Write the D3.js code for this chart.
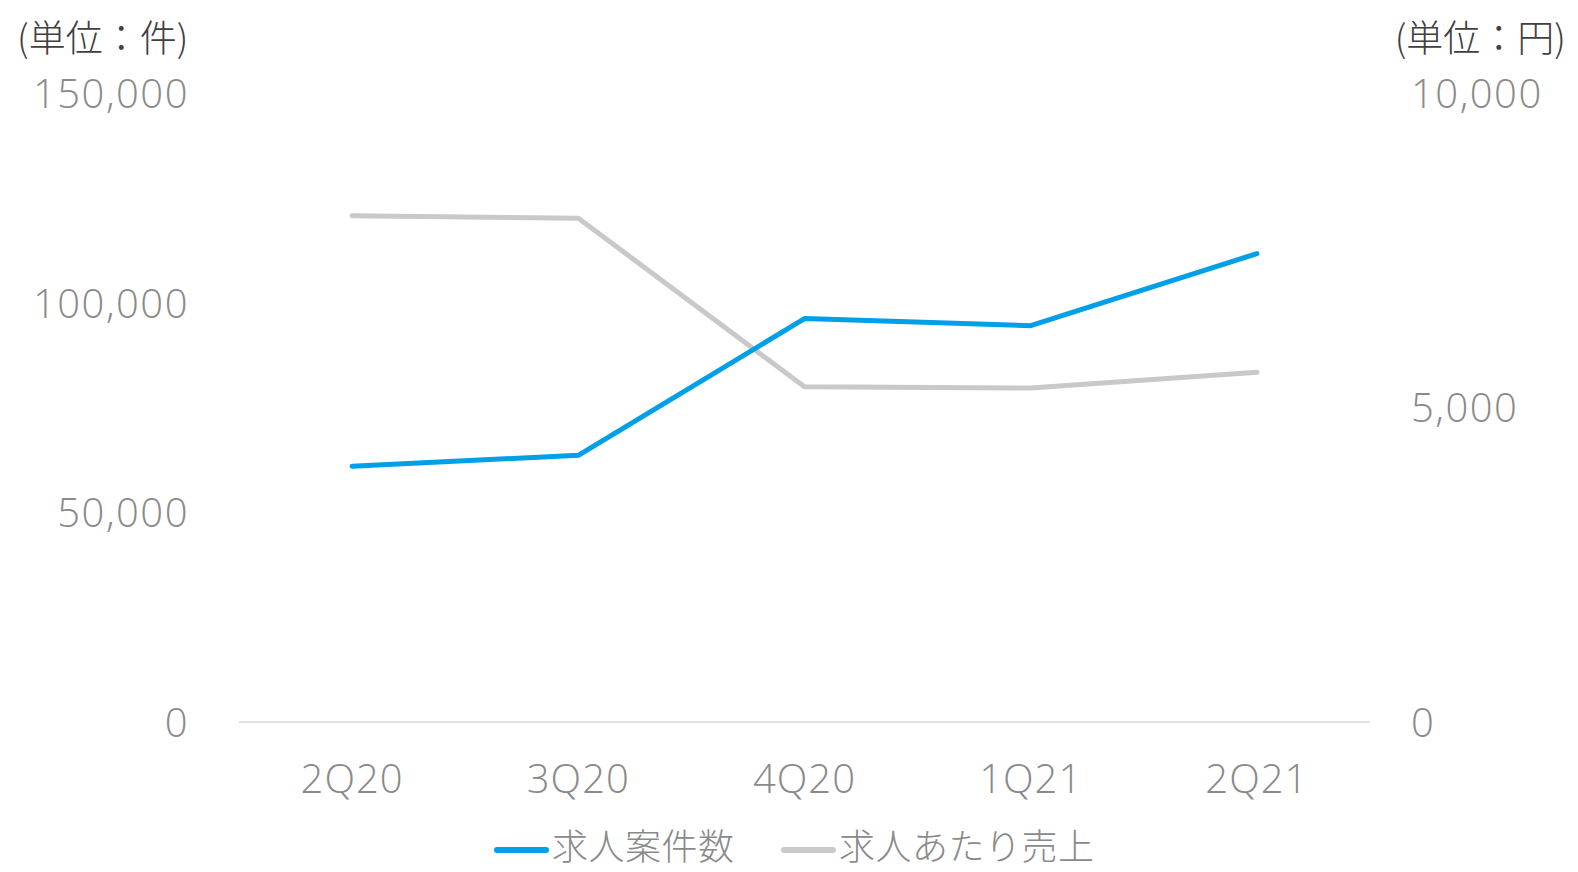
<!DOCTYPE html>
<html>
<head>
<meta charset="utf-8">
<script src="https://cdn.jsdelivr.net/npm/d3@7"></script>
<style>
  body { margin: 0; background: #fff; }
  text { font-family: "Open Sans", "Noto Sans CJK JP", sans-serif; font-weight: 300; }
  .cjk { font-family: "Noto Sans CJK JP", sans-serif; font-weight: 300; }
</style>
</head>
<body>
<script>
// quarters + two series (left axis: 件, right axis: 円)
const quarters = ["2Q20", "3Q20", "4Q20", "1Q21", "2Q21"];
const jobCount = [61000, 63600, 96200, 94500, 111700];
const salesPerJob = [8050, 8010, 5330, 5310, 5560];
const leftTicks = [0, 50000, 100000, 150000];
const rightTicks = [0, 5000, 10000];
const seriesNames = ["求人案件数", "求人あたり売上"];
const unitLeft = "(単位：件)";
const unitRight = "(単位：円)";

const width = 1578, height = 872;
const plotLeft = 239, plotRight = 1370, plotTop = 93, plotBottom = 722;
const blue = "#00a0e9", gray = "#c9c9c9", labelColor = "#8a8a8a";

let svg = d3.select("body").append("svg")
  .attr("width", width)
  .attr("height", height);

let x = d3.scaleBand()
  .domain(quarters)
  .range([plotLeft, plotRight]);

let yLeft = d3.scaleLinear()
  .domain([0, 150000])
  .range([plotBottom, plotTop]);

let yRight = d3.scaleLinear()
  .domain([0, 10000])
  .range([plotBottom, plotTop]);

// baseline
svg.append("line")
  .attr("x1", plotLeft).attr("x2", plotRight)
  .attr("y1", yLeft(0)).attr("y2", yLeft(0))
  .attr("stroke", "#d9d9d9")
  .attr("stroke-width", 1.5);

// left axis
let leftAxis = svg.append("g")
  .attr("transform", `translate(${plotLeft - 50},0)`)
  .call(d3.axisLeft(yLeft).tickValues(leftTicks).tickSize(0).tickPadding(0).tickFormat(d3.format(",")));
leftAxis.select(".domain").remove();
leftAxis.selectAll("text")
  .attr("fill", labelColor)
  .style("font-size", "40px")
  .style("letter-spacing", "1.5px")
  .attr("dy", "0.36em");

// right axis
let rightAxis = svg.append("g")
  .attr("transform", `translate(${plotRight + 41},0)`)
  .call(d3.axisRight(yRight).tickValues(rightTicks).tickSize(0).tickPadding(0).tickFormat(d3.format(",")));
rightAxis.select(".domain").remove();
rightAxis.selectAll("text")
  .attr("fill", labelColor)
  .style("font-size", "40px")
  .style("letter-spacing", "1.5px")
  .attr("dy", "0.36em");

// x axis
let xAxis = svg.append("g")
  .attr("transform", `translate(0,${plotBottom})`)
  .call(d3.axisBottom(x).tickSize(0).tickPadding(71));
xAxis.select(".domain").remove();
xAxis.selectAll("text")
  .attr("fill", labelColor)
  .style("font-size", "40px")
  .style("letter-spacing", "1px")
  .attr("dy", "0");

// unit labels
svg.append("text")
  .attr("class", "cjk")
  .attr("x", 17).attr("y", 52)
  .attr("fill", "#404040")
  .style("font-size", "37px")
  .text(unitLeft);
svg.append("text")
  .attr("class", "cjk")
  .attr("x", width - 12).attr("y", 52)
  .attr("text-anchor", "end")
  .attr("fill", "#404040")
  .style("font-size", "37px")
  .text(unitRight);

// lines
let lineLeft = d3.line()
  .x((d, i) => x(quarters[i]) + x.bandwidth() / 2)
  .y(d => yLeft(d));
let lineRight = d3.line()
  .x((d, i) => x(quarters[i]) + x.bandwidth() / 2)
  .y(d => yRight(d));

svg.append("path")
  .datum(salesPerJob)
  .attr("d", lineRight)
  .attr("fill", "none")
  .attr("stroke", gray)
  .attr("stroke-width", 5)
  .attr("stroke-linejoin", "round")
  .attr("stroke-linecap", "round");

svg.append("path")
  .datum(jobCount)
  .attr("d", lineLeft)
  .attr("fill", "none")
  .attr("stroke", blue)
  .attr("stroke-width", 5)
  .attr("stroke-linejoin", "round")
  .attr("stroke-linecap", "round");

// legend
const legendItems = [
  { name: seriesNames[0], color: blue, x: 497 },
  { name: seriesNames[1], color: gray, x: 784 }
];
let legend = svg.append("g").attr("id", "legend");
legendItems.forEach(item => {
  legend.append("line")
    .attr("x1", item.x).attr("x2", item.x + 49)
    .attr("y1", 850).attr("y2", 850)
    .attr("stroke", item.color)
    .attr("stroke-width", 6)
    .attr("stroke-linecap", "round");
  legend.append("text")
    .attr("class", "cjk")
    .attr("x", item.x + 55).attr("y", 860)
    .attr("fill", labelColor)
    .style("font-size", "36px")
    .style("letter-spacing", "0.5px")
    .text(item.name);
});
</script>
</body>
</html>
